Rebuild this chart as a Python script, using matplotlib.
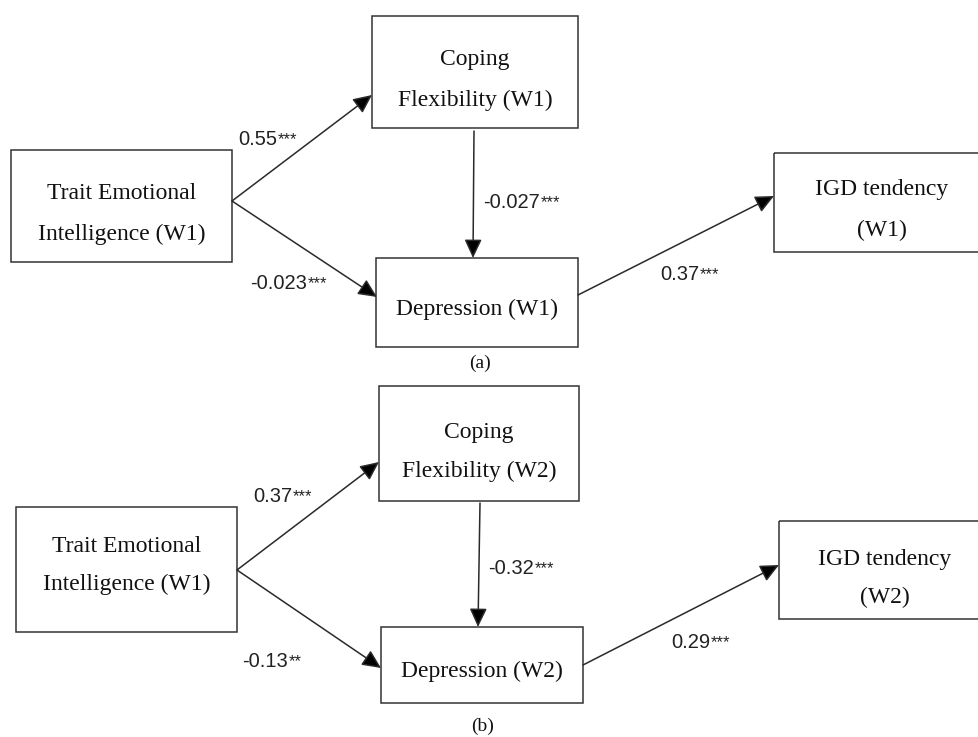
import matplotlib.pyplot as plt
from matplotlib.patches import Rectangle

# path model labels and coefficients
te_label = ['Trait Emotional', 'Intelligence (W1)']
wave = ['W1', 'W2']
panel_tags = ['(a)', '(b)']
# order: TEI->Coping, TEI->Depression, Coping->Depression, Depression->IGD
coef_a = ['0.55', '-0.023', '-0.027', '0.37']
stars_a = ['***', '***', '***', '***']
coef_b = ['0.37', '-0.13', '-0.32', '0.29']
stars_b = ['***', '**', '***', '***']

# layout in pixels (origin top-left)
layout = [
    dict(boxes=[(11, 150, 232, 262), (372, 16, 578, 128), (376, 258, 578, 347), (774, 153, 982, 252)],
         tei_y=[199, 240], cop_y=[65, 106], dep_y=315, igd_y=[195, 236], igd_x=882,
         arrows=[((232, 201), (372, 95)), ((232, 201), (377, 297)),
                 ((474, 131), (473, 258)), ((578, 295), (774, 196))],
         lab=[(238, 145), (250, 289), (483, 208), (660, 280)], tag=(480, 368)),
    dict(boxes=[(16, 507, 237, 632), (379, 386, 579, 501), (381, 627, 583, 703), (779, 521, 982, 619)],
         tei_y=[552, 590], cop_y=[438, 477], dep_y=677, igd_y=[565, 603], igd_x=885,
         arrows=[((237, 570), (379, 462)), ((237, 570), (381, 668)),
                 ((480, 503), (478, 627)), ((583, 665), (779, 565))],
         lab=[(253, 502), (242, 667), (488, 574), (671, 648)], tag=(483, 731)),
]

serif = 'Liberation Serif'
sans = 'Liberation Sans'
box_fs = 17
num_fs = 14.5
edge = '#333333'

fig = plt.figure(figsize=(9.79, 7.37), dpi=100)
ax = fig.add_axes([0, 0, 1, 1])
ax.set_xlim(0, 979)
ax.set_ylim(737, 0)
ax.axis('off')

for p, lay in enumerate(layout):
    w = wave[p]
    coefs = [coef_a, coef_b][p]
    stars = [stars_a, stars_b][p]
    for (x0, y0, x1, y1) in lay['boxes']:
        ax.add_patch(Rectangle((x0, y0), x1 - x0, y1 - y0, fill=False,
                               edgecolor=edge, lw=1.1))
    b = lay['boxes']
    cx = [(bx[0] + bx[2]) / 2 for bx in b]
    txt = dict(family=serif, fontsize=box_fs, ha='center', va='baseline', color='#111111')
    for line, y in zip(te_label, lay['tei_y']):
        ax.text(cx[0], y, line, **txt)
    for line, y in zip(['Coping', 'Flexibility ({})'.format(w)], lay['cop_y']):
        ax.text(cx[1], y, line, **txt)
    ax.text(cx[2], lay['dep_y'], 'Depression ({})'.format(w), **txt)
    for line, y in zip(['IGD tendency', '({})'.format(w)], lay['igd_y']):
        ax.text(lay['igd_x'], y, line, **txt)

    for (start, end) in lay['arrows']:
        ax.annotate('', xy=end, xytext=start,
                    arrowprops=dict(arrowstyle='-|>,head_length=0.6,head_width=0.28',
                                    mutation_scale=19, lw=1.1, color='#2a2a2a',
                                    fc='black', shrinkA=0, shrinkB=0))

    for (lx, ly), c, s in zip(lay['lab'], coefs, stars):
        t = ax.text(lx, ly, c, family=sans, fontsize=num_fs, ha='left',
                    va='baseline', color='#222222')
        ax.annotate(s, xy=(1, 1), xycoords=t, xytext=(0.5, -1.5),
                    textcoords='offset points', family=sans, fontsize=12,
                    ha='left', va='top', color='#222222')

    ax.text(lay['tag'][0], lay['tag'][1], panel_tags[p], family=serif,
            fontsize=14, ha='center', va='baseline', color='#111111')

fig.savefig('out.png', dpi=100)
plt.close(fig)
